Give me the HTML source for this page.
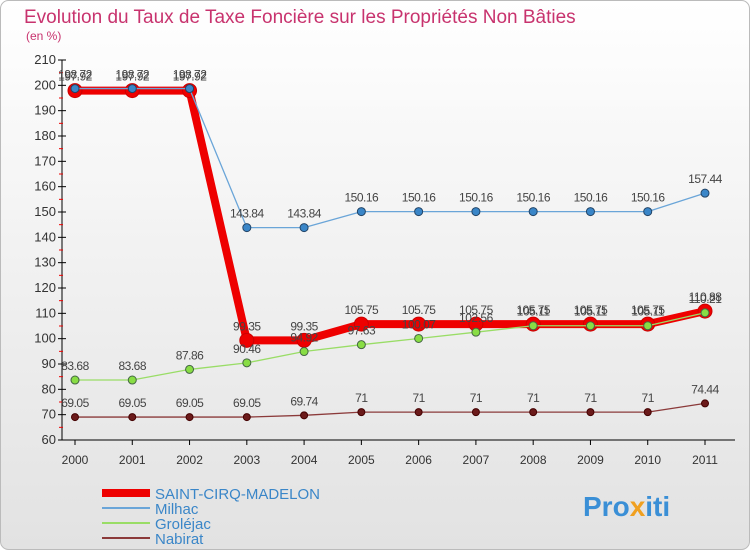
<!DOCTYPE html>
<html><head><meta charset="utf-8"><style>
body{margin:0;width:750px;height:550px;overflow:hidden;font-family:"Liberation Sans",sans-serif}
</style></head><body>
<svg id="c" width="750" height="550" xmlns="http://www.w3.org/2000/svg">
<defs><linearGradient id="bg" x1="0" y1="0" x2="0" y2="1"><stop offset="0" stop-color="#ffffff"/><stop offset="1" stop-color="#e2e2e2"/></linearGradient></defs>
<rect x="0.5" y="0.5" width="749" height="549" rx="8" fill="url(#bg)" stroke="#bbb"/>
<text x="24" y="23" font-size="19" fill="#c8336e">Evolution du Taux de Taxe Foncière sur les Propriétés Non Bâties</text>
<text x="26" y="40" font-size="12" fill="#c8336e">(en %)</text>
<g id="axes"></g><g id="series"></g><g id="legend"></g>
<text x="583" y="516" font-size="28" font-weight="bold" fill="#3a8fd6">Pro<tspan fill="#f0a020">x</tspan><tspan fill="#3a8fd6">iti</tspan></text>
</svg>
<script>
const years=["2000","2001","2002","2003","2004","2005","2006","2007","2008","2009","2010","2011"];
const yTicks=[60,70,80,90,100,110,120,130,140,150,160,170,180,190,200,210];
const saint=[197.92,197.92,197.92,99.35,99.35,105.75,105.75,105.75,105.75,105.75,105.75,110.88];
const milhac=[198.72,198.72,198.72,143.84,143.84,150.16,150.16,150.16,150.16,150.16,150.16,157.44];
const grolejac=[83.68,83.68,87.86,90.46,94.92,97.63,100.07,102.56,105.11,105.11,105.11,110.21];
const nabirat=[69.05,69.05,69.05,69.05,69.74,71,71,71,71,71,71,74.44];
const NS="http://www.w3.org/2000/svg";
function X(i){return 75+i*(630/11);}
function Y(v){return 440-(v-60)*(380/150);}
function mk(t,a,p){const e=document.createElementNS(NS,t);for(const k in a)e.setAttribute(k,a[k]);p.appendChild(e);return e;}
const ax=document.getElementById('axes');
let l=mk('line',{x1:62,y1:60,x2:62,y2:440,stroke:'#000'},ax);
l=mk('line',{x1:62,y1:440,x2:735,y2:440,stroke:'#000'},ax);
yTicks.forEach((v,i)=>{const y=Y(v);mk('line',{x1:58,y1:y,x2:66,y2:y,stroke:'#000'},ax);
 if(i<yTicks.length-1)mk('line',{x1:59,y1:Y(v+5),x2:63,y2:Y(v+5),stroke:'#e00'},ax);
 const t=mk('text',{x:56,y:y+4,'font-size':13,fill:'#333','text-anchor':'end'},ax);t.textContent=v;
 });
years.forEach((yr,i)=>{const x=X(i);mk('line',{x1:x,y1:440,x2:x,y2:445,stroke:'#000'},ax);
 const t=mk('text',{x:x,y:464,'font-size':12,fill:'#333','text-anchor':'middle'},ax);t.textContent=yr;
 });
const sg=document.getElementById('series');
function draw(vals,color,w,r,fill,name,dark){
 const g=mk('g',{},sg);
 mk('polyline',{points:vals.map((v,i)=>X(i)+','+Y(v)).join(' '),fill:'none',stroke:color,'stroke-width':w,'stroke-linejoin':'round'},g);
 vals.forEach((v,i)=>{const c=mk('circle',{cx:X(i),cy:Y(v),r:r,fill:fill,stroke:dark,'stroke-width':1},g);
  
  const t=mk('text',{x:X(i),y:Y(v)-10,'font-size':12,fill:'#444','text-anchor':'middle','letter-spacing':'-0.5'},g);t.textContent=v;
  });
}
draw(saint,'#ee0000',8,7,'#ee0000','series-saint-cirq','#c00');
draw(milhac,'#6aa5d8',1.3,4,'#3a86c8','series-milhac','#246');
draw(grolejac,'#99dd66',1.3,4,'#88dd44','series-grolejac','#464');
draw(nabirat,'#8b3a3a',1.3,3.5,'#6b1a1a','series-nabirat','#400');
const lg=document.getElementById('legend');
[['SAINT-CIRQ-MADELON','#ee0000',8],['Milhac','#6aa5d8',2],['Groléjac','#99dd66',2],['Nabirat','#8b3a3a',2]].forEach((d,i)=>{
 const y=493+i*15;const g=mk('g',{},lg);
 mk('line',{x1:102,y1:y,x2:150,y2:y,stroke:d[1],'stroke-width':d[2]},g);
 const t=mk('text',{x:155,y:y+6,'font-size':15,fill:'#3a86c8'},g);t.textContent=d[0];});
</script>
</body></html>
